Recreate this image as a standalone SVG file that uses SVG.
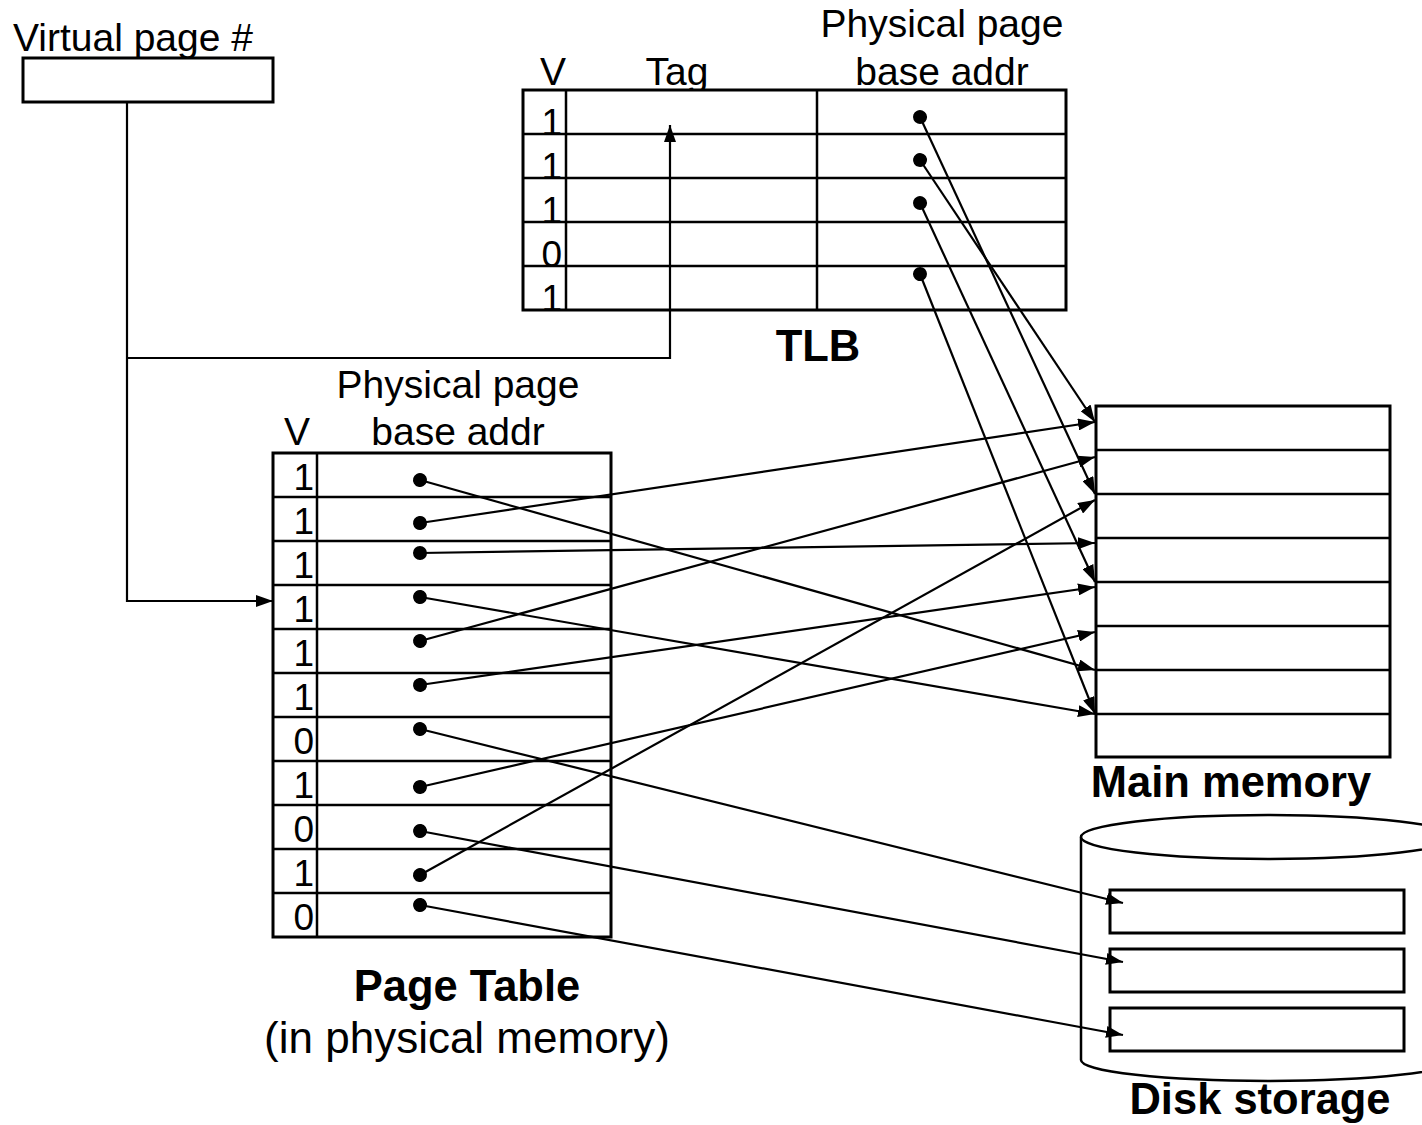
<svg xmlns="http://www.w3.org/2000/svg" width="1422" height="1125" viewBox="0 0 1422 1125">
<style>
text{font-family:"Liberation Sans",Arial,sans-serif;fill:#000}
.t38{font-size:39px}
.dig{font-size:37px;text-anchor:end}
.b{font-size:43.5px;font-weight:bold;text-anchor:middle}
.c{text-anchor:middle}
.box{fill:#fff;stroke:#000;stroke-width:3}
.ln{stroke:#000;stroke-width:2.5;fill:none}
.con{stroke:#000;stroke-width:2.2;fill:none}
.arr{marker-end:url(#ah)}
.dot{marker-start:url(#dt)}
</style>
<defs>
<marker id="ah" markerUnits="userSpaceOnUse" markerWidth="17" markerHeight="12" viewBox="0 0 17 12" refX="17" refY="6" orient="auto"><path d="M0,0 L17,6 L0,12 z" fill="#000"/></marker>
<marker id="dt" markerUnits="userSpaceOnUse" markerWidth="16" markerHeight="16" viewBox="0 0 16 16" refX="8" refY="8" orient="auto"><circle cx="8" cy="8" r="7" fill="#000"/></marker>
</defs>
<rect width="1422" height="1125" fill="#fff"/>

<g id="virtual-page">
<text class="t38" x="13" y="51">Virtual page #</text>
<rect class="box" x="23" y="58" width="250" height="44"/>
</g>

<g id="tlb">
<text class="t38 c" x="553" y="85">V</text>
<text class="t38 c" x="677" y="85">Tag</text>
<text class="t38 c" x="942" y="37">Physical page</text>
<text class="t38 c" x="942" y="85">base addr</text>
<rect class="box" x="523" y="90" width="543" height="220"/>
<text class="dig" x="562" y="135">1</text>
<text class="dig" x="562" y="179">1</text>
<text class="dig" x="562" y="223">1</text>
<text class="dig" x="562" y="267">0</text>
<text class="dig" x="562" y="311">1</text>
<path class="ln" d="M566,90V310M817,90V310M523,134H1066M523,178H1066M523,222H1066M523,266H1066"/>
<text class="b" x="818" y="361">TLB</text>
</g>

<g id="page-table">
<text class="t38 c" x="297" y="445">V</text>
<text class="t38 c" x="458" y="398">Physical page</text>
<text class="t38 c" x="458" y="445">base addr</text>
<rect class="box" x="273" y="453" width="338" height="484"/>
<path class="ln" d="M317,453V937M273,497H611M273,541H611M273,585H611M273,629H611M273,673H611M273,717H611M273,761H611M273,805H611M273,849H611M273,893H611"/>
<text class="dig" x="314" y="490">1</text>
<text class="dig" x="314" y="534">1</text>
<text class="dig" x="314" y="578">1</text>
<text class="dig" x="314" y="622">1</text>
<text class="dig" x="314" y="666">1</text>
<text class="dig" x="314" y="710">1</text>
<text class="dig" x="314" y="754">0</text>
<text class="dig" x="314" y="798">1</text>
<text class="dig" x="314" y="842">0</text>
<text class="dig" x="314" y="886">1</text>
<text class="dig" x="314" y="930">0</text>
<text class="b" x="467" y="1001">Page Table</text>
<text class="c" style="font-size:44px" x="467" y="1053">(in physical memory)</text>
</g>

<g id="main-memory">
<rect class="box" x="1096" y="406" width="294" height="351"/>
<path class="ln" d="M1096,450H1390M1096,494H1390M1096,538H1390M1096,582H1390M1096,626H1390M1096,670H1390M1096,714H1390"/>
<text class="b" x="1231" y="797">Main memory</text>
</g>

<g id="disk-storage">
<path class="ln" style="fill:#fff" d="M1081,837 L1081,1060 A187,21 0 0 0 1455,1060 L1455,837"/>
<ellipse class="ln" style="fill:#fff" cx="1268" cy="837" rx="187" ry="22"/>
<rect class="box" x="1110" y="890" width="294" height="43"/>
<rect class="box" x="1110" y="949" width="294" height="43"/>
<rect class="box" x="1110" y="1008" width="294" height="43"/>
<text class="b" x="1260" y="1114">Disk storage</text>
</g>

<g id="connectors">
<path class="con" d="M127,102 V601 H273" marker-end="url(#ah)"/>
<path class="con" d="M127,358 H670 V125" marker-end="url(#ah)"/>
<line class="con arr dot" x1="920" y1="117" x2="1095" y2="494"/>
<line class="con arr dot" x1="920" y1="160" x2="1095" y2="422"/>
<line class="con arr dot" x1="920" y1="203" x2="1095" y2="582"/>
<line class="con arr dot" x1="920" y1="274" x2="1095" y2="714"/>
<line class="con arr dot" x1="420" y1="480" x2="1095" y2="670"/>
<line class="con arr dot" x1="420" y1="523" x2="1095" y2="422"/>
<line class="con arr dot" x1="420" y1="553" x2="1095" y2="543"/>
<line class="con arr dot" x1="420" y1="597" x2="1095" y2="714"/>
<line class="con arr dot" x1="420" y1="641" x2="1095" y2="457"/>
<line class="con arr dot" x1="420" y1="685" x2="1095" y2="587"/>
<line class="con arr dot" x1="420" y1="729" x2="1123" y2="903"/>
<line class="con arr dot" x1="420" y1="787" x2="1095" y2="632"/>
<line class="con arr dot" x1="420" y1="831" x2="1123" y2="962"/>
<line class="con arr dot" x1="420" y1="875" x2="1095" y2="500"/>
<line class="con arr dot" x1="420" y1="905" x2="1123" y2="1035"/>
</g>
</svg>
